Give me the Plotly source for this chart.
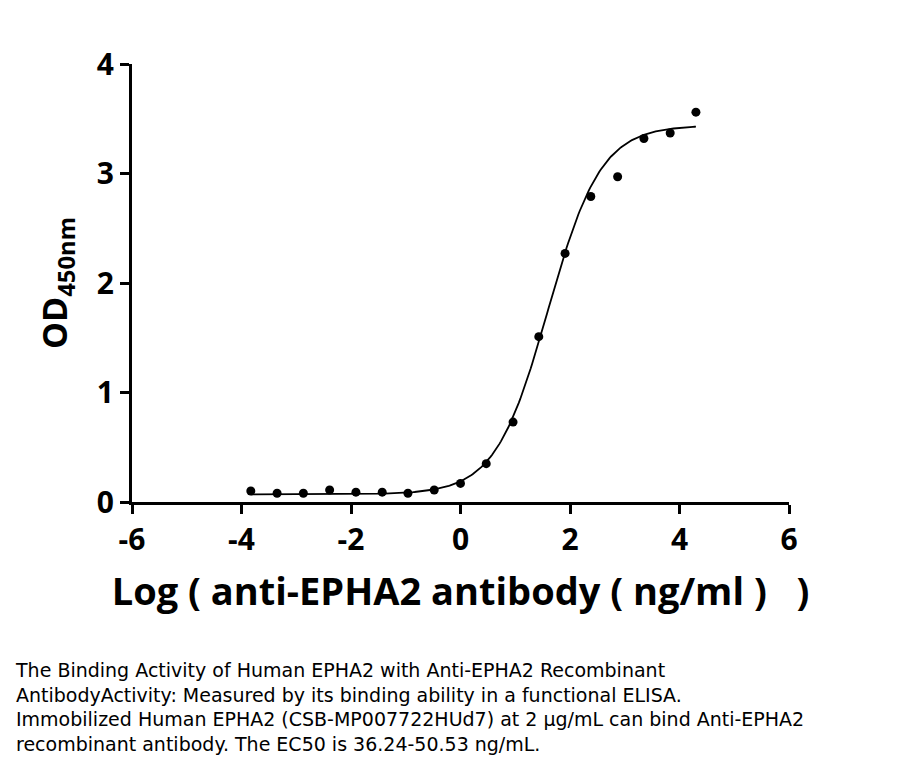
import plotly.graph_objects as go
import numpy as np

# Data (log10 concentration, OD450)
log_conc = [-3.83, -3.35, -2.87, -2.39, -1.91, -1.43, -0.96, -0.48, 0.0, 0.47,
            0.96, 1.43, 1.91, 2.38, 2.87, 3.35, 3.83, 4.30]
od450 = [0.10, 0.08, 0.08, 0.11, 0.09, 0.09, 0.08, 0.11, 0.17, 0.35,
         0.73, 1.51, 2.27, 2.79, 2.97, 3.32, 3.37, 3.56]

# 4PL fit parameters
fit_bottom = 0.07
fit_top = 3.44
fit_logec50 = 1.60
fit_hill = 0.90

x_ticks = [-6, -4, -2, 0, 2, 4, 6]
y_ticks = [0, 1, 2, 3, 4]

caption_lines = [
    "The Binding Activity of Human EPHA2 with Anti-EPHA2 Recombinant",
    "AntibodyActivity: Measured by its binding ability in a functional ELISA.",
    "Immobilized Human EPHA2 (CSB-MP007722HUd7) at 2 µg/mL can bind Anti-EPHA2",
    "recombinant antibody. The EC50 is 36.24-50.53 ng/mL.",
]

xc = np.linspace(min(log_conc), max(log_conc), 300)
yc = fit_bottom + (fit_top - fit_bottom) / (1 + 10 ** (fit_hill * (fit_logec50 - xc)))

fig = go.Figure()
fig.add_trace(go.Scatter(x=xc, y=yc, mode="lines", line=dict(color="black", width=1.8),
                         hoverinfo="skip", cliponaxis=False))
fig.add_trace(go.Scatter(x=log_conc, y=od450, mode="markers",
                         marker=dict(color="black", size=9), cliponaxis=False))

tickfont = dict(family="Open Sans, sans-serif", size=30, color="black", weight="bold")

fig.update_layout(
    width=901, height=766,
    margin=dict(l=124, r=120, t=56, b=272),
    paper_bgcolor="white", plot_bgcolor="white",
    showlegend=False,
    xaxis=dict(range=[-6, 6], tickvals=x_ticks, ticktext=[str(t) for t in x_ticks],
               showgrid=False, zeroline=False, showline=True, linecolor="black", linewidth=3,
               ticks="outside", ticklen=9, tickwidth=3, tickcolor="black",
               tickfont=tickfont,
               title=dict(text="Log ( anti-EPHA2 antibody ( ng/ml )   )",
                          font=dict(family="Open Sans, sans-serif", size=38, color="black",
                                    weight="bold"),
                          standoff=21)),
    yaxis=dict(range=[0, 4], tickvals=y_ticks, ticktext=[str(t) for t in y_ticks],
               showgrid=False, zeroline=False, showline=True, linecolor="black", linewidth=3,
               ticks="outside", ticklen=9, tickwidth=3, tickcolor="black",
               tickfont=tickfont,
               title=dict(text="OD<sub>450nm</sub>",
                          font=dict(family="Open Sans, sans-serif", size=34, color="black",
                                    weight="bold"),
                          standoff=19)),
    font=dict(family="Open Sans, sans-serif", color="black"),
)

fig.add_annotation(text="<br>".join(caption_lines), xref="paper", yref="paper", x=0, y=0,
                   xanchor="left", yanchor="top", align="left",
                   xshift=-119, yshift=-155, showarrow=False,
                   font=dict(family="DejaVu Sans, sans-serif", size=19, color="black"))

fig.write_html("out.html")
